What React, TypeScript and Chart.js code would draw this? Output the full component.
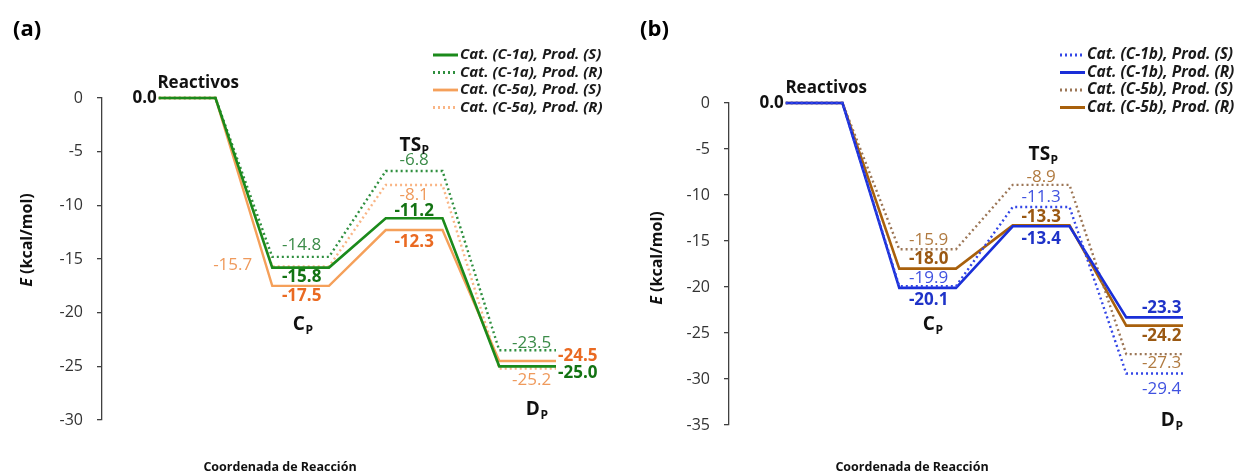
import React, { useEffect, useRef } from 'react';
import { Chart, registerables } from 'chart.js';
Chart.register(...registerables);

const FONT = '"Open Sans", sans-serif';

// ---------- data ----------
const stages = ['Reactivos', 'C', 'TS', 'D'];
const stageSubs = ['', 'P', 'P', 'P'];

const yRangeA = [-30, 0];
const yRangeB = [-35, 0];
const yStep = 5;

// panel (a)
const c1aS = [0.0, -15.8, -11.2, -25.0];
const c1aR = [0.0, -14.8, -6.8, -23.5];
const c5aS = [0.0, -17.5, -12.3, -24.5];
const c5aR = [0.0, -15.7, -8.1, -25.2];
// panel (b)
const c1bS = [0.0, -19.9, -11.3, -29.4];
const c1bR = [0.0, -20.1, -13.4, -23.3];
const c5bS = [0.0, -15.9, -8.9, -27.3];
const c5bR = [0.0, -18.0, -13.3, -24.2];

const namesA = ['Cat. (C-1a), Prod. (S)', 'Cat. (C-1a), Prod. (R)', 'Cat. (C-5a), Prod. (S)', 'Cat. (C-5a), Prod. (R)'];
const namesB = ['Cat. (C-1b), Prod. (S)', 'Cat. (C-1b), Prod. (R)', 'Cat. (C-5b), Prod. (S)', 'Cat. (C-5b), Prod. (R)'];

// ---------- styles ----------
type Place = [string, number, number]; // mode: 'c' center, 'r' right of level, 'l' left of level; dx; dy
type Style = { color: string; dash: number[]; label: string; bold: boolean; width: number; places: Place[] };

const stylesA: Style[] = [
  { color: '#1b8a1b', dash: [], label: '#137313', bold: true, width: 2.6, places: [['c', 1, 10], ['c', 0, -7], ['r', 2, 7]] },
  { color: '#2f8f3f', dash: [2, 3], label: '#3b8b48', bold: false, width: 2.4, places: [['c', 1, -12], ['c', 0, -11], ['c', 4, -7]] },
  { color: '#f5a05a', dash: [], label: '#ea6a22', bold: true, width: 2.4, places: [['c', 1, 10], ['c', 0, 12], ['r', 2, -5]] },
  { color: '#f9b585', dash: [2, 3], label: '#ef9a5c', bold: false, width: 2.4, places: [['l', 20, -1], ['c', 0, 10], ['c', 4, 12]] },
];
const stylesB: Style[] = [
  { color: '#3346e6', dash: [2, 3], label: '#4052e0', bold: false, width: 2.4, places: [['c', 1, -8], ['c', 0, -10], ['c', 7, 16]] },
  { color: '#1a2fd8', dash: [], label: '#1f33c8', bold: true, width: 2.6, places: [['c', 1, 12], ['c', 0, 13], ['c', 7, -9]] },
  { color: '#9c7656', dash: [2, 3], label: '#b07a40', bold: false, width: 2.4, places: [['c', 1, -9], ['c', 0, -8], ['c', 7, 9]] },
  { color: '#a8600c', dash: [], label: '#9a5812', bold: true, width: 2.6, places: [['c', 1, -9], ['c', 0, -8], ['c', 7, 11]] },
];

type Panel = {
  tag: string;
  series: number[][];
  names: string[];
  styles: Style[];
  yRange: number[];
  width: number;
  padding: { left: number; top: number; right: number; bottom: number };
  legendX: number;
  legendY: number[];
  legendFont: number;
  yTitle: [number, number];
  xTitle: [number, number];
  tagPos: [number, number];
  stagePos: [number, number][]; // dx from level center, y in data units
};

const panelA: Panel = {
  tag: '(a)',
  series: [c1aS, c1aR, c5aS, c5aR],
  names: namesA,
  styles: stylesA,
  yRange: yRangeA,
  width: 620,
  padding: { left: 52, top: 98, right: 64, bottom: 53 },
  legendX: 433,
  legendY: [55, 72.5, 90, 107.5],
  legendFont: 15,
  yTitle: [27, 240],
  xTitle: [280, 467],
  tagPos: [13, 30],
  stagePos: [[11, 1.4], [2, -21.15], [0, -4.4], [9, -29.07]],
};

const panelB: Panel = {
  tag: '(b)',
  series: [c1bS, c1bR, c5bS, c5bR],
  names: namesB,
  styles: stylesB,
  yRange: yRangeB,
  width: 619,
  padding: { left: 59, top: 103, right: 56, bottom: 48 },
  legendX: 440,
  legendY: [55, 72.5, 90, 107.5],
  legendFont: 15.5,
  yTitle: [37, 258],
  xTitle: [292, 467],
  tagPos: [20, 30],
  stagePos: [[12, 1.66], [5, -24.1], [2, -5.63], [17, -34.5]],
};

const toPoints = (vals: number[]) => vals.flatMap((v, i) => [{ x: 2 * i, y: v }, { x: 2 * i + 1, y: v }]);

function drawSub(ctx: CanvasRenderingContext2D, main: string, sub: string, cx: number, cy: number, size: number) {
  ctx.save();
  ctx.fillStyle = '#111';
  ctx.textBaseline = 'middle';
  ctx.textAlign = 'left';
  ctx.font = `bold ${size}px ${FONT}`;
  const w1 = ctx.measureText(main).width;
  const subSize = Math.round(size * 0.62);
  ctx.font = `bold ${subSize}px ${FONT}`;
  const w2 = sub ? ctx.measureText(sub).width : 0;
  const x0 = cx - (w1 + w2) / 2;
  ctx.font = `bold ${size}px ${FONT}`;
  ctx.fillText(main, x0, cy);
  if (sub) {
    ctx.font = `bold ${subSize}px ${FONT}`;
    ctx.fillText(sub, x0 + w1 + 0.5, cy + size * 0.3);
  }
  ctx.restore();
}

function makePlugin(p: Panel) {
  return {
    id: 'energyLabels',
    afterDatasetsDraw(chart: any) {
      const ctx: CanvasRenderingContext2D = chart.ctx;
      const xs = chart.scales.x;
      const ys = chart.scales.y;
      ctx.save();
      p.series.forEach((vals, si) => {
        const st = p.styles[si];
        vals.forEach((v, li) => {
          if (li === 0) return;
          const [mode, dx, dy] = st.places[li - 1];
          const y = ys.getPixelForValue(v) + dy;
          ctx.font = `${st.bold ? 'bold ' : ''}17px ${FONT}`;
          ctx.fillStyle = st.label;
          ctx.textBaseline = 'middle';
          let x: number;
          if (mode === 'r') {
            ctx.textAlign = 'left';
            x = xs.getPixelForValue(2 * li + 1) + dx;
          } else if (mode === 'l') {
            ctx.textAlign = 'right';
            x = xs.getPixelForValue(2 * li) - dx;
          } else {
            ctx.textAlign = 'center';
            x = xs.getPixelForValue(2 * li + 0.5) + dx;
          }
          ctx.fillText(v.toFixed(1), x, y);
        });
      });
      ctx.font = `bold 17px ${FONT}`;
      ctx.fillStyle = '#111';
      ctx.textAlign = 'right';
      ctx.textBaseline = 'middle';
      ctx.fillText(p.series[0][0].toFixed(1), xs.getPixelForValue(0) - 2, ys.getPixelForValue(p.series[0][0]));
      stages.forEach((s, i) => {
        const [dx, yv] = p.stagePos[i];
        const cx = xs.getPixelForValue(2 * i + 0.5) + dx;
        const cy = ys.getPixelForValue(yv);
        drawSub(ctx, s, stageSubs[i], cx, cy, i === 0 ? 17 : 19);
      });
      ctx.restore();
    },
    afterDraw(chart: any) {
      const ctx: CanvasRenderingContext2D = chart.ctx;
      ctx.save();
      ctx.font = `bold 22px ${FONT}`;
      ctx.fillStyle = '#000';
      ctx.textAlign = 'left';
      ctx.textBaseline = 'middle';
      ctx.fillText(p.tag, p.tagPos[0], p.tagPos[1]);
      p.names.forEach((n, i) => {
        const st = p.styles[i];
        const y = p.legendY[i];
        ctx.beginPath();
        ctx.strokeStyle = st.color;
        ctx.lineWidth = st.width + 0.4;
        ctx.setLineDash(st.dash);
        ctx.moveTo(p.legendX, y);
        ctx.lineTo(p.legendX + 25, y);
        ctx.stroke();
        ctx.setLineDash([]);
        ctx.font = `italic bold ${p.legendFont}px ${FONT}`;
        ctx.fillStyle = '#1a1a1a';
        ctx.textAlign = 'left';
        ctx.fillText(n, p.legendX + 27, y);
      });
      ctx.translate(p.yTitle[0], p.yTitle[1]);
      ctx.rotate(-Math.PI / 2);
      ctx.font = `italic bold 16px ${FONT}`;
      const wE = ctx.measureText('E').width;
      ctx.font = `bold 16px ${FONT}`;
      const rest = ' (kcal/mol)';
      const wR = ctx.measureText(rest).width;
      const x0 = -(wE + wR) / 2;
      ctx.fillStyle = '#111';
      ctx.font = `italic bold 16px ${FONT}`;
      ctx.fillText('E', x0, 0);
      ctx.font = `bold 16px ${FONT}`;
      ctx.fillText(rest, x0 + wE, 0);
      ctx.setTransform(1, 0, 0, 1, 0, 0);
      ctx.font = `bold 12.5px ${FONT}`;
      ctx.textAlign = 'center';
      ctx.fillText('Coordenada de Reacción', p.xTitle[0], p.xTitle[1]);
      ctx.restore();
    },
  };
}

function EnergyChart({ panel, left }: { panel: Panel; left: number }) {
  const ref = useRef<HTMLCanvasElement>(null);
  useEffect(() => {
    if (!ref.current) return;
    const chart = new Chart(ref.current, {
      type: 'line',
      data: {
        datasets: panel.series.map((vals, i) => ({
          label: panel.names[i],
          data: toPoints(vals),
          borderColor: panel.styles[i].color,
          borderWidth: panel.styles[i].width,
          borderDash: panel.styles[i].dash,
          borderCapStyle: 'butt',
          borderJoinStyle: 'miter',
          pointRadius: 0,
          tension: 0,
          fill: false,
          clip: false,
        })),
      },
      options: {
        animation: false,
        responsive: false,
        maintainAspectRatio: false,
        devicePixelRatio: 1,
        layout: { padding: panel.padding },
        plugins: { legend: { display: false }, tooltip: { enabled: false } },
        scales: {
          x: { type: 'linear', min: -1, max: 7, display: false },
          y: {
            type: 'linear',
            min: panel.yRange[0],
            max: panel.yRange[1],
            afterFit: (s: any) => { s.width = 50; },
            ticks: { stepSize: yStep, color: '#333', font: { family: FONT, size: 16 }, padding: 14 },
            grid: { drawOnChartArea: false, tickLength: 5, color: '#404040', lineWidth: 1.3 },
            border: { color: '#404040', width: 1.3 },
          },
        },
      } as any,
      plugins: [makePlugin(panel)],
    });
    return () => chart.destroy();
  }, [panel]);
  return (
    <canvas
      ref={ref}
      width={panel.width}
      height={473}
      style={{ position: 'absolute', left, top: 0, width: panel.width, height: 473 }}
    />
  );
}

export default function App() {
  return (
    <div style={{ position: 'absolute', left: 0, top: 0, width: 1239, height: 473, background: '#fff', overflow: 'hidden' }}>
      <EnergyChart panel={panelA} left={0} />
      <EnergyChart panel={panelB} left={620} />
    </div>
  );
}
